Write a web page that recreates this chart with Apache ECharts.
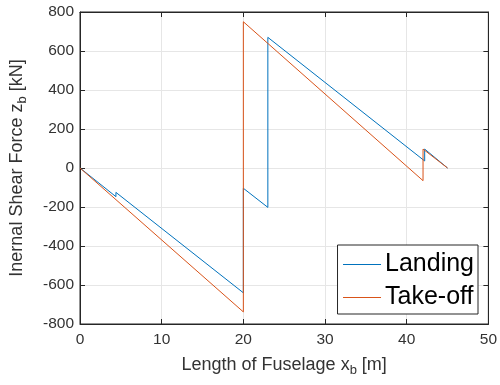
<!DOCTYPE html>
<html><head><meta charset="utf-8">
<script src="https://cdn.jsdelivr.net/npm/echarts@6/dist/echarts.min.js"></script>
<style>html,body{margin:0;padding:0;background:#fff}#c{width:500px;height:385px}</style>
</head><body><div id="c"></div>
<script>
var landingX = [0, 4.4, 4.4, 20, 20, 23, 23, 42.2, 42.2, 45];
var landingY = [0, -147, -125, -640, -104, -202, 670, 36, 97, 0];
var takeoffX = [0, 20, 20, 42, 42, 45];
var takeoffY = [0, -738, 750, -65, 97, 0];
var xTicks = [0, 10, 20, 30, 40, 50];
var yTicks = [-800, -600, -400, -200, 0, 200, 400, 600, 800];

function pairs(xs, ys){ return xs.map(function(x,i){ return [x, ys[i]]; }); }

var txt = '#333333';
var chart = echarts.init(document.getElementById('c'), null, {renderer:'canvas'});
function axLine(){ return {show:true, onZero:false, lineStyle:{color:'#262626', width:1}}; }
function axTick(){ return {show:true, inside:true, length:5, lineStyle:{color:'#262626'}}; }
var font = 'Liberation Sans, Arial, sans-serif';
chart.setOption({
  animation:false,
  grid:{left:79, right:11, top:12, bottom:61, show:true, borderColor:'#262626', borderWidth:1, backgroundColor:'#fff'},
  xAxis:[
    {type:'value', min:xTicks[0], max:xTicks[xTicks.length-1], interval:10, position:'bottom',
      name:'Length of Fuselage x{sub|b} [m]', nameLocation:'middle', nameGap:29,
      nameTextStyle:{color:txt, fontSize:18, fontFamily:font, rich:{sub:{fontSize:13, color:txt, padding:[11,0,0,0], fontFamily:font}}},
      axisLabel:{color:txt, fontSize:15.5, fontFamily:font, margin:8},
      axisLine:axLine(), axisTick:axTick(),
      splitLine:{show:true, lineStyle:{color:'#e6e6e6', width:1}}},
    {type:'value', min:xTicks[0], max:xTicks[xTicks.length-1], interval:10, position:'top', axisLabel:{show:false},
      axisLine:axLine(), axisTick:axTick(), splitLine:{show:false}}
  ],
  yAxis:[
    {type:'value', min:yTicks[0], max:yTicks[yTicks.length-1], interval:200, position:'left',
      name:'Inernal Shear Force z{sub|b} [kN]', nameLocation:'middle', nameGap:51,
      nameTextStyle:{color:txt, fontSize:18, fontFamily:font, rich:{sub:{fontSize:13, color:txt, padding:[11,0,0,0], fontFamily:font}}},
      axisLabel:{color:txt, fontSize:15.5, fontFamily:font, margin:6},
      axisLine:axLine(), axisTick:axTick(),
      splitLine:{show:true, lineStyle:{color:'#e6e6e6', width:1}}},
    {type:'value', min:yTicks[0], max:yTicks[yTicks.length-1], interval:200, position:'right', axisLabel:{show:false},
      axisLine:axLine(), axisTick:axTick(), splitLine:{show:false}}
  ],
  legend:{
    right:22, top:245, orient:'vertical', backgroundColor:'#fff', borderColor:'#262626', borderWidth:1,
    padding:[7,4,4,5], itemWidth:38, itemHeight:14, itemGap:8,
    itemStyle:{opacity:0}, lineStyle:{width:1},
    textStyle:{color:'#000', fontSize:25, fontFamily:font, padding:[0,0,0,-1]},
    data:['Landing','Take-off']
  },
  series:[
    {name:'Landing', type:'line', data:pairs(landingX, landingY), showSymbol:false, symbol:'none',
      lineStyle:{color:'#0072BD', width:1}, itemStyle:{color:'#0072BD'}},
    {name:'Take-off', type:'line', data:pairs(takeoffX, takeoffY), showSymbol:false, symbol:'none',
      lineStyle:{color:'#D95319', width:1}, itemStyle:{color:'#D95319'}}
  ]
});
</script></body></html>
